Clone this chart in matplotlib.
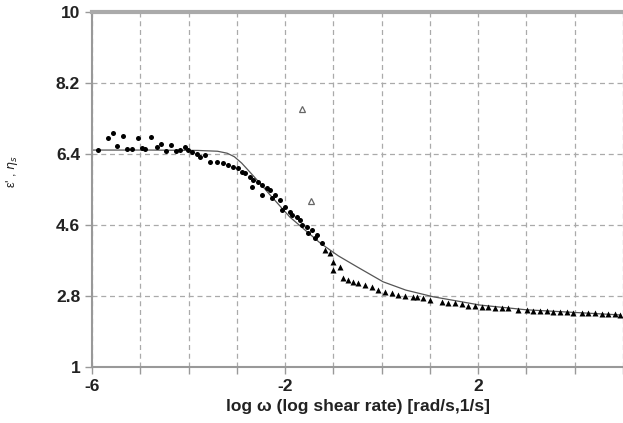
import matplotlib.pyplot as plt

# filled points
dots_x = [-5.88, -5.67, -5.57, -5.36, -5.48, -5.28, -5.17, -5.05, -4.96, -4.90,
          -4.78, -4.65, -4.57, -4.47, -4.36, -4.26, -4.18, -4.07, -4.01, -3.93,
          -3.82, -3.76, -3.66, -3.55, -3.41, -3.29, -3.18, -3.08, -2.97, -2.89,
          -2.83, -2.73, -2.66, -2.68, -2.56, -2.48, -2.48, -2.37, -2.31, -2.27,
          -2.21, -2.10, -2.06, -2.00, -1.90, -1.86, -1.75, -1.69, -1.65, -1.54,
          -1.44, -1.34, -1.52, -1.38, -1.23]
dots_y = [6.50, 6.81, 6.93, 6.86, 6.60, 6.53, 6.53, 6.81, 6.55, 6.53,
          6.83, 6.58, 6.65, 6.48, 6.63, 6.48, 6.50, 6.58, 6.50, 6.45,
          6.40, 6.32, 6.37, 6.20, 6.20, 6.17, 6.12, 6.07, 6.05, 5.94,
          5.92, 5.82, 5.74, 5.56, 5.69, 5.61, 5.36, 5.54, 5.49, 5.28,
          5.36, 5.23, 4.98, 5.06, 4.93, 4.85, 4.80, 4.73, 4.60, 4.55,
          4.47, 4.35, 4.40, 4.27, 4.14]

tri_x = [-1.17, -1.07, -1.01, -1.01, -0.86, -0.80, -0.69, -0.59, -0.49, -0.34,
         -0.20, -0.07, 0.07, 0.22, 0.34, 0.49, 0.65, 0.74, 0.86, 1.01,
         1.25, 1.38, 1.52, 1.67, 1.79, 1.94, 2.08, 2.21, 2.35, 2.50,
         2.62, 2.83, 3.02, 3.14, 3.29, 3.43, 3.55, 3.70, 3.85, 3.97,
         4.16, 4.28, 4.43, 4.57, 4.69, 4.84, 4.94]
tri_y = [3.97, 3.89, 3.66, 3.46, 3.54, 3.26, 3.21, 3.16, 3.13, 3.08,
         3.03, 2.95, 2.90, 2.88, 2.83, 2.80, 2.78, 2.78, 2.75, 2.70,
         2.65, 2.62, 2.62, 2.60, 2.55, 2.55, 2.52, 2.52, 2.50, 2.50,
         2.50, 2.45, 2.45, 2.42, 2.42, 2.42, 2.39, 2.39, 2.39, 2.37,
         2.37, 2.37, 2.37, 2.34, 2.34, 2.34, 2.32]

# open triangles
open_x = [-1.64, -1.47]
open_y = [7.54, 5.21]

# smooth model curve
line_x = [-6.0, -4.8, -3.8, -3.4, -3.2, -3.05, -2.9, -2.75, -2.5, -2.31, -1.9,
          -1.27, -0.9, -0.51, 0.03, 0.5, 1.07, 2.04, 3.0, 4.94]
line_y = [6.50, 6.50, 6.49, 6.47, 6.42, 6.33, 6.17, 5.97, 5.63, 5.36, 4.80,
          4.14, 3.82, 3.54, 3.16, 2.95, 2.78, 2.57, 2.45, 2.32]

x_ticks = list(range(-6, 6))
x_labels = ['-6' if t == -6 else '-2' if t == -2 else '2' if t == 2 else '' for t in x_ticks]
y_ticks = [1, 2.8, 4.6, 6.4, 8.2, 10]

plt.rcParams['font.family'] = ['Liberation Sans', 'DejaVu Sans']

fig = plt.figure(figsize=(6.23, 4.23), dpi=100)
ax = fig.add_axes([92 / 623, 1 - 367 / 423, 531 / 623, 355 / 423])

ax.plot(line_x, line_y, color='#555555', lw=0.9, zorder=2)
ax.plot(dots_x, dots_y, 'o', color='black', ms=3.6, mec='none', zorder=3)
ax.plot(tri_x, tri_y, '^', color='black', ms=4.5, mec='none', zorder=3)
ax.plot(open_x, open_y, '^', mfc='white', mec='#666666', ms=5, mew=0.9, zorder=3)

ax.set_xlim(-6, 5)
ax.set_ylim(1, 10)
ax.set_xticks(x_ticks)
ax.set_xticklabels(x_labels)
ax.set_yticks(y_ticks)
ax.set_yticklabels(['1', '2.8', '4.6', '6.4', '8.2', '10'])

ax.grid(True, color='#aaaaaa', ls=(0, (4, 3)), lw=0.9)
ax.set_axisbelow(True)

for side in ['left', 'bottom']:
    ax.spines[side].set_color('#999999')
    ax.spines[side].set_linewidth(1.5)
ax.spines['top'].set_color('#aaaaaa')
ax.spines['top'].set_linewidth(3)
ax.spines['right'].set_visible(False)

ax.tick_params(axis='both', colors='#999999', labelcolor='#222222', length=5, width=1,
               labelsize=12.5)
for lab in ax.get_xticklabels() + ax.get_yticklabels():
    lab.set_fontweight('bold')

ax.set_xlabel('log ω (log shear rate) [rad/s,1/s]', fontsize=12.5, fontweight='bold',
              color='#222222', labelpad=4)
ax.set_ylabel(r"ε' , $\eta_s$", fontsize=9, color='#222222')
ax.yaxis.set_label_coords(-0.135, 0.55)

fig.savefig('out.png', dpi=100)
